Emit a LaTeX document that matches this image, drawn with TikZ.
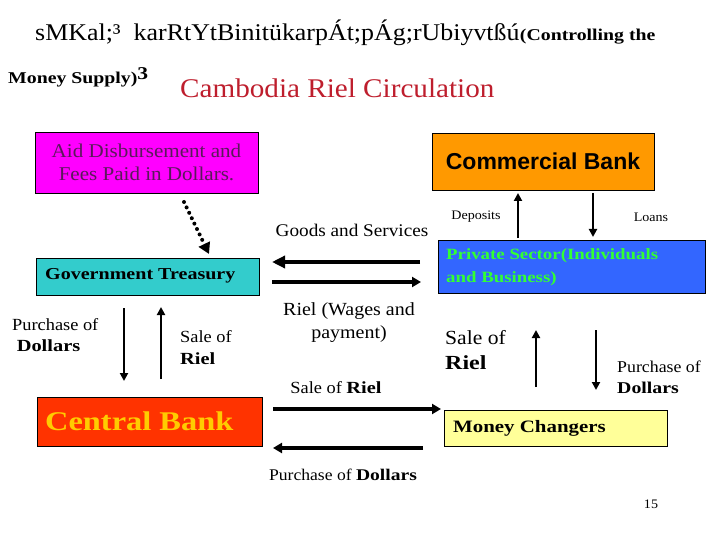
\documentclass[tikz,border=0pt]{standalone}
\usepackage{fontspec}
\setmainfont{Liberation Serif}[FakeStretch=1.08, BoldFeatures={FakeStretch=1.2}]
\newfontfamily\arialf{Liberation Sans}
\usetikzlibrary{arrows.meta}
\definecolor{pinkbox}{RGB}{255,0,255}
\definecolor{pinktext}{RGB}{90,26,90}
\definecolor{tealbox}{RGB}{51,204,204}
\definecolor{orangebox}{RGB}{255,153,0}
\definecolor{bluebox}{RGB}{51,102,255}
\definecolor{greentext}{RGB}{51,255,51}
\definecolor{redbox}{RGB}{255,51,0}
\definecolor{goldtext}{RGB}{255,204,0}
\definecolor{yellowbox}{RGB}{255,255,153}
\definecolor{titlered}{RGB}{190,30,45}
\tikzset{
  box/.style={draw=black, line width=0.8pt, inner sep=0pt},
  lbl/.style={inner sep=0pt, align=left},
  heavyarr/.style={line width=4.5pt, -{Triangle[length=13pt,width=12pt]}},
  thickarr/.style={line width=3.5pt, -{Triangle[length=9pt,width=10pt]}},
  varr/.style={line width=2.5pt, -{Triangle[length=8pt,width=8pt]}},
  dotarr/.style={line width=4pt, line cap=round, dash pattern=on 0pt off 6pt, -{Triangle[length=11pt,width=12pt]}}
}
\newcommand{\fs}[2]{\fontsize{#1}{#2}\selectfont}
\begin{document}
\begin{tikzpicture}[x=1pt,y=-1pt]
\useasboundingbox (0,0) rectangle (720,540);
% titles
\node[lbl, anchor=base west, font=\fs{24}{26}] (t1) at (35,41) {sMKal;³\ \ karRtYtBinitükarpÁt;pÁg;rUbiyvtßú};
\node[lbl, anchor=base west, font=\fs{16.5}{18}\bfseries] (t2) at (t1.base east) {(Controlling the};
\node[lbl, anchor=base west, font=\fs{16.5}{18}\bfseries] (t3) at (8,84) {Money Supply)\raisebox{4pt}{\fs{18}{20}3}};
\node[lbl, anchor=base west, text=titlered, font=\fs{27}{30}] (t4) at (180,98) {Cambodia Riel Circulation};
% boxes
\node[box, fill=pinkbox, minimum width=223pt, minimum height=61pt, text=pinktext, align=center, font=\fs{19.5}{23}] (aid) at (146.5,162.5) {Aid Disbursement and\\Fees Paid in Dollars.};
\node[box, fill=tealbox, minimum width=223pt, minimum height=37pt] (gov) at (147.5,276.5) {};
\node[lbl, anchor=west, font=\fs{16.7}{19}\bfseries] (govt) at (45,276) {Government Treasury};
\node[box, fill=orangebox, minimum width=222pt, minimum height=57pt, font=\fs{23}{26}\arialf\bfseries] (cb) at (543,161.5) {Commercial Bank};
\node[box, fill=bluebox, minimum width=267pt, minimum height=53pt] (ps) at (571.5,266.5) {};
\node[lbl, anchor=west, text=greentext, font=\fs{15.7}{23}\bfseries] (pst) at (446,267) {Private Sector(Individuals\\and Business)};
\node[box, fill=redbox, minimum width=225pt, minimum height=49pt] (cen) at (149.5,421.5) {};
\node[lbl, anchor=west, text=goldtext, font=\fs{27}{30}\bfseries] (cent) at (45,421) {Central Bank};
\node[box, fill=yellowbox, minimum width=223pt, minimum height=36pt] (mc) at (555.5,428) {};
\node[lbl, anchor=west, font=\fs{17.4}{20}\bfseries] (mct) at (453,428) {Money Changers};
% dotted arrow
\coordinate (d1) at (184,202);
\coordinate (d2) at (209,254);
\draw[dotarr] (d1) -- (d2);
% goods and services arrows
\coordinate (g1a) at (420,262); \coordinate (g1b) at (272,262);
\coordinate (g2a) at (272,282); \coordinate (g2b) at (421,282);
\draw[heavyarr] (g1a) -- (g1b);
\draw[thickarr] (g2a) -- (g2b);
\node[lbl, anchor=center, font=\fs{17.8}{20}] (gsl) at (352,230) {Goods and Services};
\node[lbl, anchor=center, align=center, font=\fs{18.5}{23}] (wag) at (349,323) {Riel (Wages and\\payment)};
% deposits / loans
\coordinate (dep1) at (518,238); \coordinate (dep2) at (518,193);
\coordinate (ln1) at (593,193); \coordinate (ln2) at (593,237);
\draw[varr] (dep1) -- (dep2);
\draw[varr] (ln1) -- (ln2);
\node[lbl, anchor=center, font=\fs{13}{15}] (depl) at (476,217) {Deposits};
\node[lbl, anchor=center, font=\fs{13}{15}] (lnl) at (651,217) {Loans};
% gov - central vertical
\coordinate (pv1) at (124,308); \coordinate (pv2) at (124,381);
\coordinate (sv1) at (161,379); \coordinate (sv2) at (161,307);
\draw[varr] (pv1) -- (pv2);
\draw[varr] (sv1) -- (sv2);
\node[lbl, anchor=west, font=\fs{17}{21}] (pdl) at (12,335) {Purchase of\\\ \textbf{Dollars}};
\node[lbl, anchor=west, font=\fs{17}{22}] (srl) at (180,348) {Sale of\\\textbf{Riel}};
% central - money changers
\coordinate (sr1) at (273,409); \coordinate (sr2) at (441,409);
\coordinate (pd1) at (423,448); \coordinate (pd2) at (273,448);
\draw[thickarr] (sr1) -- (sr2);
\draw[thickarr] (pd1) -- (pd2);
\node[lbl, anchor=center, font=\fs{17}{20}] (srm) at (336,388) {Sale of \textbf{Riel}};
\node[lbl, anchor=center, font=\fs{16.3}{20}] (pdm) at (343,475) {Purchase of \textbf{Dollars}};
% money changers vertical
\coordinate (mu1) at (536,387); \coordinate (mu2) at (536,330);
\coordinate (md1) at (596,330); \coordinate (md2) at (596,390);
\draw[varr] (mu1) -- (mu2);
\draw[varr] (md1) -- (md2);
\node[lbl, anchor=west, font=\fs{20}{25}] (msr) at (445,350) {Sale of\\\textbf{Riel}};
\node[lbl, anchor=west, font=\fs{16.5}{21}] (mpd) at (617,377) {Purchase of\\\textbf{Dollars}};
\node[lbl, anchor=center, font=\fs{13}{15}] (pg) at (651,504) {15};
\end{tikzpicture}
\end{document}
